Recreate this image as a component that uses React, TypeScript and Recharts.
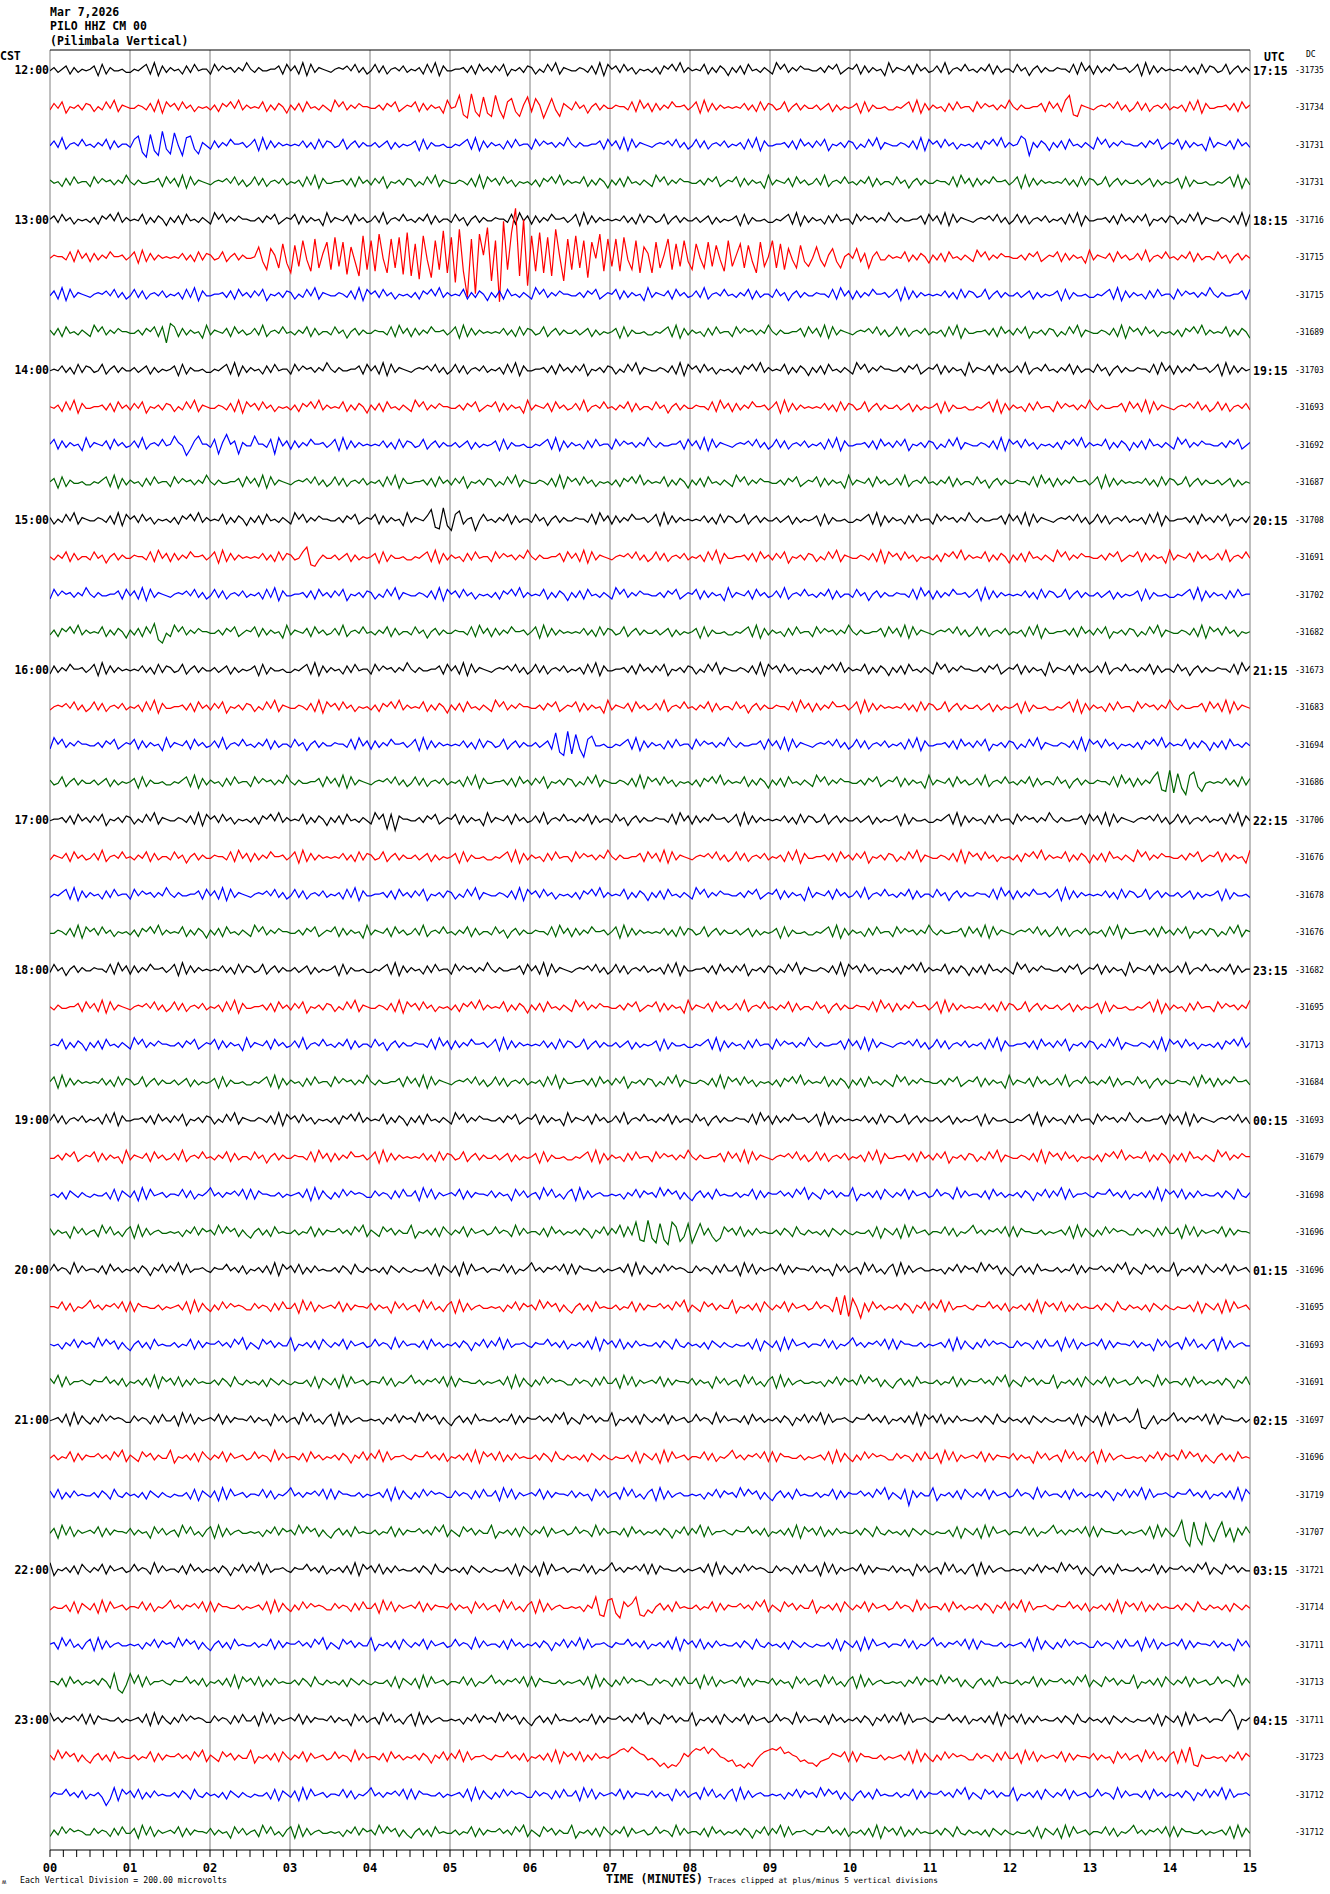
import { Line, LineChart, ReferenceLine, XAxis, YAxis } from 'recharts';

// Helicorder PILO HHZ CM 00, Mar 7 2026. One string per 15-minute trace, 10 samples per group (3 s each).
// '0'..'9' -> -4.5..+4.5, 'A'..'Z' -> +5.5..+30.5, 'a'..'z' -> -5.5..-30.5 (counts, 1 count ~ 1/23 division)
const HOUR_12 = [
  '4635726354 5718264453 3546829173 6452738455 2847563649 5364455728 4729183654 3565748362 4837256473 5462839174 4556372846 3748154637 6253849265 4465372918 5738462545 3627584936 4548263751 6372845364 2958364755 4463758246 5827364519 3654728463 4739256484 5364827355 3846157364 4655382947 2736485563 5819273645 4547362837 6348257364',
  '3748154637 6253849265 4465372918 5738462545 3627584936 4548263751 6372845364 2958364755 4463758246 5827364519 45C0bD2aB1 aC3b8A2a6B 2A6b4A3a75 3846157364 4655382947 2736485563 5819273645 4547362837 6348257364 4635726354 5718264453 3546829173 6452738455 2847563649 5364455728 4729C0a654 3565748362 4837256473 5462839174 4556372846',
  '4739256484 5364827355 38A0cB1bD2 aC4b9A2a64 2736485563 5819273645 4547362837 6348257364 4635726354 5718264453 3546829173 6452738455 2847563649 5364455728 4729183654 3565748362 4837256473 5462839174 4556372846 3748154637 6253849265 4465372918 5738462545 3627584936 45A8b63751 6372845364 2958364755 4463758246 5827364519 3654728463',
  '6452738455 2847563649 5364455728 4729183654 3565748362 4837256473 5462839174 4556372846 3748154637 6253849265 4465372918 5738462545 3627584936 4548263751 6372845364 2958364755 4463758246 5827364519 3654728463 4739256484 5364827355 3846157364 4655382947 2736485563 5819273645 4547362837 6348257364 4635726354 5718264453 3546829173',
];
const HOUR_13 = [
  '5738462545 3627584936 4548263751 6372845364 2958364755 4463758246 5827364519 3654728463 4739256484 5364827355 3846157364 4655382947 2736485563 5819273645 4547362837 6348257364 4635726354 5718264453 3546829173 6452738455 2847563649 5364455728 4729183654 3565748362 4837256473 5462839174 4556372846 3748154637 6253849265 4465372918',
  '4655382947 2736485563 5819273645 4547362837 6348257364 45B2cA6bD1 eCaF3dGb7E cHaEfB2gIc FdJ4eGbHfK gDiI3hFcLe HkMdtGrJ6N jFwRcKZgSm IdKeHgM5jG cIbFhE4JdG aGdH3cFeB7 eEb6GcDaF2 cD4bEaC3dF a6DbC2eEa5 FbDcA3bC2a 4B3a6A2b57 4A27b58336 4548263751 6372845364 2958364755 4463758246 5827364519 3654728463 4739256484 5364827355 3846157364',
  '4729183654 3565748362 4837256473 5462839174 4556372846 3748154637 6253849265 4465372918 5738462545 3627584936 4548263751 6372845364 2958364755 4463758246 5827364519 3654728463 4739256484 5364827355 3846157364 4655382947 2736485563 5819273645 4547362837 6348257364 4635726354 5718264453 3546829173 6452738455 2847563649 5364455728',
  '6372845364 2958364755 446375828b A827364519 3654728463 4739256484 5364827355 3846157364 4655382947 2736485563 5819273645 4547362837 6348257364 4635726354 5718264453 3546829173 6452738455 2847563649 5364455728 4729183654 3565748362 4837256473 5462839174 4556372846 3748154637 6253849265 4465372918 5738462545 3627584936 4548263751',
];
const HOUR_14 = [
  '4547362837 6348257364 4635726354 5718264453 3546829173 6452738455 2847563649 5364455728 4729183654 3565748362 4837256473 5462839174 4556372846 3748154637 6253849265 4465372918 5738462545 3627584936 4548263751 6372845364 2958364755 4463758246 5827364519 3654728463 4739256484 5364827355 3846157364 4655382947 2736485563 5819273645',
  '5462839174 4556372846 3748154637 6253849265 4465372918 5738462545 3627584936 4548263751 6372845364 2958364755 4463758246 5827364519 3654728463 4739256484 5364827355 3846157364 4655382947 2736485563 5819273645 4547362837 6348257364 4635726354 5718264453 3546829173 6452738455 2847563649 5364455728 4729183654 3565748362 4837256473',
  '5827364519 3654728463 4739256484 5A64b27A55 38a6B57a64 4A5538a947 2736485563 5819273645 4547362837 6348257364 4635726354 5718264453 3546829173 6452738455 2847563649 5364455728 4729183654 3565748362 4837256473 5462839174 4556372846 3748154637 6253849265 4465372918 5738462545 3627584936 4548263751 6372845364 2958364755 4463758246',
  '5718264453 3546829173 6452738455 2847563649 5364455728 4729183654 3565748362 4837256473 5462839174 4556372846 3748154637 6253849265 4465372918 5738462545 3627584936 4548263751 6372845364 2958364755 4463758246 5827364519 3654728463 4739256484 5364827355 3846157364 4655382947 2736485563 5819273645 4547362837 6348257364 4635726354',
];
const HOUR_15 = [
  '6253849265 4465372918 5738462545 3627584936 4548263751 6372845364 2958364755 4463758246 5827364519 36547B0aC1 b8A256b484 5364827355 3846157364 4655382947 2736485563 5819273645 4547362837 6348257364 4635726354 5718264453 3546829173 6452738455 2847563649 5364455728 4729183654 3565748362 4837256473 5462839174 4556372846 3748154637',
  '5364827355 3846157364 4655382947 2736485563 5819273645 4547362837 6348B0a364 4635726354 5718264453 3546829173 6452738455 2847563649 5364455728 4729183654 3565748362 4837256473 5462839174 4556372846 3748154637 6253849265 4465372918 5738462545 3627584936 4548263751 6372845364 2958364755 4463758246 5827364519 3654728463 4739256484',
  '2847563649 5364455728 4729183654 3565748362 4837256473 5462839174 4556372846 3748154637 6253849265 4465372918 5738462545 3627584936 4548263751 6372845364 2958364755 4463758246 5827364519 3654728463 4739256484 5364827355 3846157364 4655382947 2736485563 5819273645 4547362837 6348257364 4635726354 5718264453 3546829173 6452738455',
  '3627584936 4548263751 637284A0b4 2958364755 4463758246 5827364519 3654728463 4739256484 5364827355 3846157364 4655382947 2736485563 5819273645 4547362837 6348257364 4635726354 5718264453 3546829173 6452738455 2847563649 5364455728 4729183654 3565748362 4837256473 5462839174 4556372846 3748154637 6253849265 4465372918 5738462545',
];
const HOUR_16 = [
  '2736485563 5819273645 4547362837 6348257364 4635726354 5718264453 3546829173 6452738455 2847563649 5364455728 4729183654 3565748362 4837256473 5462839174 4556372846 3748154637 6253849265 4465372918 5738462545 3627584936 4548263751 6372845364 2958364755 4463758246 5827364519 3654728463 4739256484 5364827355 3846157364 4655382947',
  '3565748362 4837256473 5462839174 4556372846 3748154637 6253849265 4465372918 5738462545 3627584936 4548263751 6372845364 2958364755 4463758246 5827364519 3654728463 4739256484 5364827355 3846157364 4655382947 2736485563 5819273645 4547362837 6348257364 4635726354 5718264453 3546829173 6452738455 2847563649 5364455728 4729183654',
  '2958364755 4463758246 5827364519 3654728463 4739256484 5364827355 3846157364 4655382947 2736485563 5819273645 4547362837 6348257364 463572C0bD aB2c8A4453 3546829173 6452738455 2847563649 5364455728 4729183654 3565748362 4837256473 5462839174 4556372846 3748154637 6253849265 4465372918 5738462545 3627584936 4548263751 6372845364',
  '6348257364 4635726354 5718264453 3546829173 6452738455 2847563649 5364455728 4729183654 3565748362 4837256473 5462839174 4556372846 3748154637 6253849265 4465372918 5738462545 3627584936 4548263751 6372845364 2958364755 4463758246 5827364519 3654728463 4739256484 5364827355 3846157364 4655382947 273648B0aC bA1c9B2a45 4547362837',
];
const HOUR_17 = [
  '4556372846 3748154637 6253849265 4465372918 5738462545 3627584936 4548263751 6372845364 2958a8b755 4463758246 5827364519 3654728463 4739256484 5364827355 3846157364 4655382947 2736485563 5819273645 4547362837 6348257364 4635726354 5718264453 3546829173 6452738455 2847563649 5364455728 4729183654 3565748362 4837256473 5462839174',
  '3654728463 4739256484 5364827355 3846157364 4655382947 2736485563 5819273645 4547362837 6348257364 4635726354 5718264453 3546829173 6452738455 2847563649 5364455728 4729183654 3565748362 4837256473 5462839174 4556372846 3748154637 6253849265 4465372918 5738462545 3627584936 4548263751 6372845364 2958364755 4463758246 5827364519',
  '3546829173 6452738455 2847563649 5364455728 4729183654 3565748362 4837256473 5462839174 4556372846 3748154637 6253849265 4465372918 5738462545 3627584936 4548263751 6372845364 2958364755 4463758246 5827364519 3654728463 4739256484 5364827355 3846157364 4655382947 2736485563 5819273645 4547362837 6348257364 4635726354 5718264453',
  '4465372918 5738462545 3627584936 4548263751 6372845364 2958364755 4463758246 5827364519 3654728463 4739256484 5364827355 3846157364 4655382947 2736485563 5819273645 4547362837 6348257364 4635726354 5718264453 3546829173 6452738455 2847563649 5364455728 4729183654 3565748362 4837256473 5462839174 4556372846 3748154637 6253849265',
];
const HOUR_18 = [
  '3846157364 4655382947 2736485563 5819273645 4547362837 6348257364 4635726354 5718264453 3546829173 6452738455 2847563649 5364455728 4729183654 3565748362 4837256473 5462839174 4556372846 3748154637 6253849265 4465372918 5738462545 3627584936 4548263751 6372845364 2958364755 4463758246 5827364519 3654728463 4739256484 5364827355',
  '5364455728 4729183654 3565748362 4837256473 5462839174 4556372846 3748154637 6253849265 4465372918 5738462545 3627584936 4548263751 6372845364 2958364755 4463758246 5827364519 3654728463 4739256484 5364827355 3846157364 4655382947 2736485563 5819273645 4547362837 6348257364 4635726354 5718264453 3546829173 6452738455 2847563649',
  '4548263751 6372845364 2958364755 4463758246 5827364519 3654728463 4739256484 5364827355 3846157364 4655382947 2736485563 5819273645 4547362837 6348257364 4635726354 5718264453 3546829173 6452738455 2847563649 5364455728 4729183654 3565748362 4837256473 5462839174 4556372846 3748154637 6253849265 4465372918 5738462545 3627584936',
  '5819273645 4547362837 6348257364 4635726354 5718264453 3546829173 6452738455 2847563649 5364455728 4729183654 3565748362 4837256473 5462839174 4556372846 3748154637 6253849265 4465372918 5738462545 3627584936 4548263751 6372845364 2958364755 4463758246 5827364519 3654728463 4739256484 5364827355 3846157364 4655382947 2736485563',
];
const HOUR_19 = [
  '4837256473 5462839174 4556372846 3748154637 6253849265 4465372918 5738462545 3627584936 4548263751 6372845364 2958364755 4463758246 5827364519 3654728463 4739256484 5364827355 3846157364 4655382947 2736485563 5819273645 4547362837 6348257364 4635726354 5718264453 3546829173 6452738455 2847563649 5364455728 4729183654 3565748362',
  '4463758246 5827364519 3654728463 4739256484 5364827355 3846157364 4655382947 2736485563 5819273645 4547362837 6348257364 4635726354 5718264453 3546829173 6452738455 2847563649 5364455728 4729183654 3565748362 4837256473 5462839174 4556372846 3748154637 6253849265 4465372918 5738462545 3627584936 4548263751 6372845364 2958364755',
  '4536275364 3544628175 3719284563 5548372546 9463657482 8275544635 4563819274 2638475653 3746527384 4719382645 6482736554 7364518473 5629483526 8192735644 5452648375 6394857263 1573628454 4635482736 5574638592 6428573644 9154637285 3648274563 4846529374 5537284635 4637516483 7492835564 3655846372 5463729185 7382637454 4637528436',
  '7364518473 5629483526 8192735644 5452648375 6394857263 1573628454 4635482736 5574638592 6428573644 9154637285 3648274563 4846529374 5537284635 4637516483 749283B0aC 1bA0cB8a2A b4A372a185 7382637454 4637528436 4536275364 3544628175 3719284563 5548372546 9463657482 8275544635 4563819274 2638475653 3746527384 4719382645 6482736554',
];
const HOUR_20 = [
  '4846529374 5537284635 4637516483 7492835564 3655846372 5463729185 7382637454 4637528436 4536275364 3544628175 3719284563 5548372546 9463657482 8275544635 4563819274 2638475653 3746527384 4719382645 6482736554 7364518473 5629483526 8192735644 5452648375 6394857263 1573628454 4635482736 5574638592 6428573644 9154637285 3648274563',
  '5548372546 9463657482 8275544635 4563819274 2638475653 3746527384 4719382645 6482736554 7364518473 5629483526 8192735644 5452648375 6394857263 1573628454 4635482736 5574638592 6428573644 9154637285 3648274563 484652B0Ca A5b7284635 4637516483 7492835564 3655846372 5463729185 7382637454 4637528436 4536275364 3544628175 3719284563',
  '5452648375 6394857263 1573628454 4635482736 5574638592 6428573644 9154637285 3648274563 4846529374 5537284635 4637516483 7492835564 3655846372 5463729185 7382637454 4637528436 4536275364 3544628175 3719284563 5548372546 9463657482 8275544635 4563819274 2638475653 3746527384 4719382645 6482736554 7364518473 5629483526 8192735644',
  '7492835564 3655846372 5463729185 7382637454 4637528436 4536275364 3544628175 3719284563 5548372546 9463657482 8275544635 4563819274 2638475653 3746527384 4719382645 6482736554 7364518473 5629483526 8192735644 5452648375 6394857263 1573628454 4635482736 5574638592 6428573644 9154637285 3648274563 4846529374 5537284635 4637516483',
];
const HOUR_21 = [
  '4563819274 2638475653 3746527384 4719382645 6482736554 7364518473 5629483526 8192735644 5452648375 6394857263 1573628454 4635482736 5574638592 6428573644 9154637285 3648274563 4846529374 5537284635 4637516483 7492835564 3655846372 5463729185 7382637454 4637528436 4536275364 3544628175 3719284563 5B0a372546 9463657482 8275544635',
  '4635482736 5574638592 6428573644 9154637285 3648274563 4846529374 5537284635 4637516483 7492835564 3655846372 5463729185 7382637454 4637528436 4536275364 3544628175 3719284563 5548372546 9463657482 8275544635 4563819274 2638475653 3746527384 4719382645 6482736554 7364518473 5629483526 8192735644 5452648375 6394857263 1573628454',
  '7382637454 4637528436 4536275364 3544628175 3719284563 5548372546 9463657482 8275544635 4563819274 2638475653 3746527384 4719382645 6482736554 7364518473 5629483526 8192735644 5452648375 6394857263 1573628454 4635482736 5574638592 6428b73644 9154637285 3648274563 4846529374 5537284635 4637516483 7492835564 3655846372 5463729185',
  '4719382645 6482736554 7364518473 5629483526 8192735644 5452648375 6394857263 1573628454 4635482736 5574638592 6428573644 9154637285 3648274563 4846529374 5537284635 4637516483 7492835564 3655846372 5463729185 7382637454 4637528436 4536275364 3544628175 3719284563 5548372546 9463657482 8275544635 4563819274 26C0dB1cA3 a6B27a7384',
];
const HOUR_22 = [
  '9154637285 3648274563 4846529374 5537284635 4637516483 7492835564 3655846372 5463729185 7382637454 4637528436 4536275364 3544628175 3719284563 5548372546 9463657482 8275544635 4563819274 2638475653 3746527384 4719382645 6482736554 7364518473 5629483526 8192735644 5452648375 6394857263 1573628454 4635482736 5574638592 6428573644',
  '3544628175 3719284563 5548372546 9463657482 8275544635 4563819274 2638475653 3746527384 4719382645 6482736554 7364518473 5629483526 8192735644 545264B0a9 A1b857B0a3 1573628454 4635482736 5574638592 6428573644 9154637285 3648274563 4846529374 5537284635 4637516483 7492835564 3655846372 5463729185 7382637454 4637528436 4536275364',
  '5629483526 8192735644 5452648375 6394857263 1573628454 4635482736 5574638592 6428573644 9154637285 3648274563 4846529374 5537284635 4637516483 7492835564 3655846372 5463729185 7382637454 4637528436 4536275364 3544628175 3719284563 5548372546 9463657482 8275544635 4563819274 2638475653 3746527384 4719382645 6482736554 7364518473',
  '5537284635 463751A0b3 A492835564 3655846372 5463729185 7382637454 4637528436 4536275364 3544628175 3719284563 5548372546 9463657482 8275544635 4563819274 2638475653 3746527384 4719382645 6482736554 7364518473 5629483526 8192735644 5452648375 6394857263 1573628454 4635482736 5574638592 6428573644 9154637285 3648274563 4846529374',
];
const HOUR_23 = [
  '9463657482 8275544635 4563819274 2638475653 3746527384 4719382645 6482736554 7364518473 5629483526 8192735644 5452648375 6394857263 1573628454 4635482736 5574638592 6428573644 9154637285 3648274563 4846529374 5537284635 4637516483 7492835564 3655846372 5463729185 7382637454 4637528436 4536275364 3544628175 3719284563 5548B7a546',
  '6394857263 1573628454 4635482736 5574638592 6428573644 9154637285 3648274563 4846529374 5537284635 4637516483 7492835564 3655846372 5463729185 7382637454 679A8B9763 42a1b0a275 8A9B7A8542 3a0b1a3689 A9B7865231 1a23476582 8275544635 4563819274 2638475653 3746527384 4719382645 6482736554 7364518473 5629483526 8192B0a644 5452648375',
  '3655846372 5463b29185 7382637454 4637528436 4536275364 3544628175 3719284563 5548372546 9463657482 8275544635 4563819274 2638475653 3746527384 4719382645 6482736554 7364518473 5629483526 8192735644 5452648375 6394857263 1573628454 4635482736 5574638592 6428573644 9154637285 3648274563 4846529374 5537284635 4637516483 7492835564',
  '2638475653 3746527384 4719382645 6482736554 7364518473 5629483526 8192735644 5452648375 6394857263 1573628454 4635482736 5574638592 6428573644 9154637285 3648274563 4846529374 5537284635 4637516483 7492835564 3655846372 5463729185 7382637454 4637528436 4536275364 3544628175 3719284563 5548372546 9463657482 8275544635 4563819274',
];

const CST_LABELS = ['12:00', '13:00', '14:00', '15:00', '16:00', '17:00', '18:00', '19:00', '20:00', '21:00', '22:00', '23:00'];
const UTC_LABELS = ['17:15', '18:15', '19:15', '20:15', '21:15', '22:15', '23:15', '00:15', '01:15', '02:15', '03:15', '04:15'];
const DC_VALUES = [
  -31735, -31734, -31731, -31731, -31716, -31715, -31715, -31689, -31703, -31693, -31692, -31687,
  -31708, -31691, -31702, -31682, -31673, -31683, -31694, -31686, -31706, -31676, -31678, -31676,
  -31682, -31695, -31713, -31684, -31693, -31679, -31698, -31696, -31696, -31695, -31693, -31691,
  -31697, -31696, -31719, -31707, -31721, -31714, -31711, -31713, -31711, -31723, -31712, -31712,
];
const MINUTES = [0, 1, 2, 3, 4, 5, 6, 7, 8, 9, 10, 11, 12, 13, 14, 15];
const MINUTE_LABELS = ['00', '01', '02', '03', '04', '05', '06', '07', '08', '09', '10', '11', '12', '13', '14', '15'];
const TRACE_COLORS = ['#000000', '#ff0000', '#0000ff', '#006400'];

const FONT = '"DejaVu Sans Mono", monospace';
const GAIN = 0.043; // trace spacings per count
const Y_TOP = 0.5333;
const Y_BOTTOM = -47.4667;

function decode(s: string): number[] {
  return s
    .replace(/\s+/g, '')
    .split('')
    .map((c) => {
      if (c >= '0' && c <= '9') return Number(c) - 4.5;
      if (c >= 'A' && c <= 'Z') return 5.5 + (c.charCodeAt(0) - 65);
      return -(5.5 + (c.charCodeAt(0) - 97));
    });
}

const HOURS = [HOUR_12, HOUR_13, HOUR_14, HOUR_15, HOUR_16, HOUR_17, HOUR_18, HOUR_19, HOUR_20, HOUR_21, HOUR_22, HOUR_23];

const traces = HOURS.flat().map((s, i) => {
  const v = decode(s);
  return {
    id: i,
    color: TRACE_COLORS[i % 4],
    data: v.map((val, k) => ({ t: (k * 15) / (v.length - 1), y: -i + val * GAIN })),
  };
});

const xTicks = MINUTES.slice(0, -1)
  .flatMap((m) => [0, 1, 2, 3, 4, 5].map((k) => m + k / 6))
  .concat([15]);

function MinuteTick(props: any) {
  const { x, y, payload } = props;
  const v = payload.value;
  const m = Math.round(v);
  if (Math.abs(v - m) > 1e-6) return <g />;
  return (
    <text x={x} y={y} dy={13} textAnchor="middle" fontFamily={FONT} fontSize={12} fontWeight={700} fill="#000">
      {MINUTE_LABELS[m]}
    </text>
  );
}

function HourTick(props: any) {
  const { x, y, payload } = props;
  const i = Math.round(-payload.value / 4);
  return (
    <text x={x} y={y} dy={4} textAnchor="end" fontFamily={FONT} fontSize={11.5} fontWeight={700} fill="#000">
      {CST_LABELS[i]}
    </text>
  );
}

function RightTick(props: any) {
  const { x, y, payload } = props;
  const i = Math.round(-payload.value);
  return (
    <g>
      {i % 4 === 0 && (
        <text x={x + 3} y={y} dy={5} fontFamily={FONT} fontSize={11.5} fontWeight={700} fill="#000">
          {UTC_LABELS[i / 4]}
        </text>
      )}
      <text x={x + 45} y={y} dy={3} fontFamily={FONT} fontSize={8} fill="#000">
        {DC_VALUES[i]}
      </text>
    </g>
  );
}

export default function App() {
  return (
    <div style={{ position: 'absolute', left: 0, top: 0, width: 1330, height: 1894, background: '#fff' }}>
      <LineChart width={1330} height={1894} margin={{ top: 50, right: 0, bottom: 14, left: 0 }}>
        <XAxis
          xAxisId="x"
          dataKey="t"
          type="number"
          domain={[0, 15]}
          ticks={xTicks}
          interval={0}
          height={30}
          tickSize={7}
          tickMargin={2}
          axisLine={{ stroke: '#000' }}
          tickLine={{ stroke: '#000' }}
          tick={MinuteTick}
          allowDataOverflow
        />
        <YAxis
          yAxisId="left"
          type="number"
          domain={[Y_BOTTOM, Y_TOP]}
          ticks={CST_LABELS.map((_, h) => -4 * h)}
          interval={0}
          width={50}
          axisLine={false}
          tickLine={false}
          tickSize={0}
          tickMargin={1}
          tick={HourTick}
          allowDataOverflow
        />
        <YAxis
          yAxisId="right"
          orientation="right"
          type="number"
          domain={[Y_BOTTOM, Y_TOP]}
          ticks={DC_VALUES.map((_, i) => -i)}
          interval={0}
          width={80}
          axisLine={false}
          tickLine={false}
          tickSize={0}
          tickMargin={0}
          tick={RightTick}
          allowDataOverflow
        />
        {MINUTES.map((m) => (
          <ReferenceLine key={m} x={m} xAxisId="x" yAxisId="left" stroke="#808080" strokeWidth={1} />
        ))}
        <ReferenceLine y={Y_TOP} xAxisId="x" yAxisId="left" stroke="#000" strokeWidth={1} />
        {traces.map((tr) => (
          <Line
            key={tr.id}
            data={tr.data}
            dataKey="y"
            xAxisId="x"
            yAxisId="left"
            type="linear"
            stroke={tr.color}
            strokeWidth={1.2}
            dot={false}
            activeDot={false}
            isAnimationActive={false}
          />
        ))}
      </LineChart>
      <svg
        width={1330}
        height={1894}
        style={{ position: 'absolute', left: 0, top: 0, pointerEvents: 'none', whiteSpace: 'pre' }}
        fontFamily={FONT}
        fill="#000"
      >
        <text x={50} y={15.7} fontSize={11.5} fontWeight={700}>Mar 7,2026</text>
        <text x={50} y={30} fontSize={11.5} fontWeight={700}>PILO HHZ CM 00</text>
        <text x={50} y={44.5} fontSize={11.5} fontWeight={700}>(Pilimbala Vertical)</text>
        <text x={0} y={60} fontSize={11.5} fontWeight={700}>CST</text>
        <text x={1264} y={60.5} fontSize={11.5} fontWeight={700}>UTC</text>
        <text x={1306} y={57} fontSize={8}>DC</text>
        <text x={2} y={1884} fontSize={7}>ʍ</text>
        <text x={20} y={1883} fontSize={8.2}>Each Vertical Division =  200.00 microvolts</text>
        <text x={606} y={1882.5} fontSize={11.5} fontWeight={700}>TIME (MINUTES)</text>
        <text x={708} y={1883} fontSize={7.8}>Traces clipped at plus/minus 5 vertical divisions</text>
      </svg>
    </div>
  );
}
